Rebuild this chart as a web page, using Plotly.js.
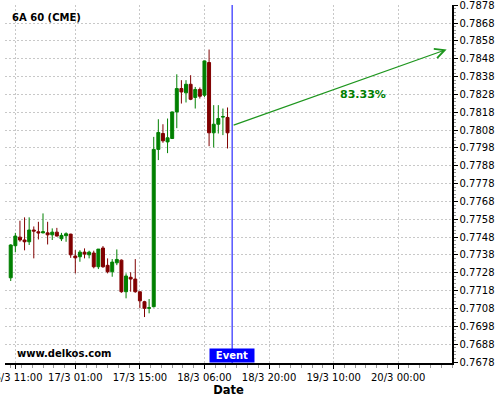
<!DOCTYPE html>
<html>
<head>
<meta charset="utf-8">
<script src="https://cdn.plot.ly/plotly-3.0.1.min.js"></script>
<style>html,body{margin:0;padding:0;background:#fff;}#chart{width:500px;height:400px;}</style>
</head>
<body>
<div id="chart"></div>
<script>
// Hourly candles of 6A (CME)
const openP  = [0.77252,0.77432,0.77480,0.77464,0.77454,0.77520,0.77510,0.77504,0.77504,0.77493,
                0.77508,0.77471,0.77488,0.77497,0.77374,0.77370,0.77396,0.77381,0.77391,0.77314,
                0.77419,0.77322,0.77286,0.77336,0.77351,0.77174,0.77255,0.77245,0.77174,0.77118,
                0.77081,0.77090,0.77972,0.78061,0.78014,0.78033,0.78182,0.78313,0.78289,0.78337,
                0.78263,0.78308,0.78276,0.78459,0.78065,0.78113,0.78153,0.78151];
const highP  = [0.77440,0.77504,0.77572,0.77591,0.77591,0.77540,0.77566,0.77613,0.77566,0.77529,
                0.77532,0.77504,0.77507,0.77499,0.77407,0.77407,0.77417,0.77404,0.77404,0.77413,
                0.77430,0.77361,0.77357,0.77411,0.77355,0.77277,0.77283,0.77357,0.77174,0.77123,
                0.77133,0.78042,0.78141,0.78113,0.78145,0.78184,0.78393,0.78360,0.78360,0.78388,
                0.78322,0.78319,0.78470,0.78532,0.78220,0.78220,0.78201,0.78207];
const lowP   = [0.77234,0.77395,0.77454,0.77406,0.77436,0.77361,0.77467,0.77501,0.77439,0.77464,
                0.77484,0.77458,0.77454,0.77364,0.77277,0.77342,0.77361,0.77361,0.77305,0.77301,
                0.77308,0.77277,0.77258,0.77323,0.77168,0.77137,0.77174,0.77168,0.77081,0.77032,
                0.77053,0.77086,0.77912,0.78009,0.77951,0.78030,0.78091,0.78229,0.78235,0.78248,
                0.78201,0.78257,0.78266,0.77990,0.77983,0.78061,0.78052,0.77977];
const closeP = [0.77436,0.77486,0.77464,0.77454,0.77520,0.77514,0.77504,0.77510,0.77493,0.77508,
                0.77486,0.77490,0.77499,0.77381,0.77364,0.77396,0.77385,0.77396,0.77314,0.77413,
                0.77314,0.77286,0.77340,0.77355,0.77174,0.77262,0.77245,0.77174,0.77123,0.77081,
                0.77084,0.77972,0.78067,0.78020,0.78037,0.78182,0.78313,0.78294,0.78337,0.78253,
                0.78308,0.78270,0.78468,0.78065,0.78113,0.78145,0.78156,0.78065];

const tickIdx    = [1, 14, 28, 42, 56, 70, 84];
const tickLabels = ["16/3 11:00","17/3 01:00","17/3 15:00","18/3 06:00","18/3 20:00","19/3 10:00","20/3 00:00"];
const yTickVals  = [0.7678,0.7688,0.7698,0.7708,0.7718,0.7728,0.7738,0.7748,0.7758,0.7768,0.7778,
                    0.7788,0.7798,0.7808,0.7818,0.7828,0.7838,0.7848,0.7858,0.7868,0.7878];

const eventIdx   = 48;
const arrowFrom  = [48, 0.78105];
const arrowTo    = [94.5, 0.78532];
const probText   = "83.33%";
const probPos    = [76.3, 0.78279];

const xIdx = openP.map((_, i) => i);

const trace = {
  type: 'candlestick',
  x: xIdx, open: openP, high: highP, low: lowP, close: closeP,
  increasing: {line: {color: '#008000', width: 1}, fillcolor: '#008000'},
  decreasing: {line: {color: '#800000', width: 1}, fillcolor: '#800000'},
  whiskerwidth: 0,
  hoverinfo: 'skip',
  showlegend: false
};

const font = 'DejaVu Sans, sans-serif';
const layout = {
  width: 500, height: 400,
  margin: {l: 5, r: 48, t: 5, b: 37, pad: 0},
  paper_bgcolor: '#ffffff', plot_bgcolor: '#ffffff',
  font: {family: font, size: 10, color: '#000'},
  boxgap: 0.08,
  showlegend: false,
  xaxis: {
    type: 'linear', range: [-1.24, 95.66],
    rangeslider: {visible: false},
    tickmode: 'array', tickvals: tickIdx, ticktext: tickLabels,
    ticklabeloverflow: 'allow',
    ticks: 'outside', ticklen: 4, tickcolor: '#000', tickwidth: 1,
    minor: {tickmode: 'linear', tick0: 0, dtick: 7/3, ticks: 'outside', ticklen: 3, tickcolor: '#999', showgrid: false},
    showline: true, linecolor: '#000', linewidth: 1.5,
    showgrid: true, gridcolor: '#c8c8c8', griddash: '2px,2px', gridwidth: 1,
    zeroline: false,
    tickfont: {family: font, size: 10, color: '#000'},
    title: {text: '<b>Date</b>', font: {family: font, size: 11.5, color: '#000'}, standoff: 4},
    fixedrange: true
  },
  yaxis: {
    side: 'right', range: [0.767744, 0.787815],
    tickmode: 'array', tickvals: yTickVals, ticktext: yTickVals.map(v => v.toFixed(4)),
    ticklabeloverflow: 'allow',
    ticks: 'outside', ticklen: 4, tickcolor: '#000', tickwidth: 1,
    minor: {tickmode: 'linear', tick0: 0.7678, dtick: 0.0002, ticks: 'outside', ticklen: 2, tickcolor: '#999', showgrid: false},
    showline: true, linecolor: '#000', linewidth: 1.5,
    showgrid: true, gridcolor: '#c8c8c8', griddash: '2px,2px', gridwidth: 1,
    zeroline: false,
    tickfont: {family: font, size: 10, color: '#000'},
    fixedrange: true
  },
  shapes: [
    {type: 'line', xref: 'x', yref: 'paper', x0: eventIdx, x1: eventIdx, y0: 0, y1: 1,
     line: {color: '#0000ff', width: 1}}
  ],
  annotations: [
    {xref: 'paper', yref: 'paper', x: 0.011, y: 0.985, xanchor: 'left', yanchor: 'top',
     text: '<b>6A 60 (CME)</b>', showarrow: false, font: {family: font, size: 10, color: '#000'}},
    {xref: 'paper', yref: 'paper', x: 0.022, y: 0.027, xanchor: 'left', yanchor: 'middle',
     text: '<b>www.delkos.com</b>', showarrow: false, font: {family: font, size: 10, color: '#000'}},
    {xref: 'x', yref: 'paper', x: eventIdx, y: 0, xanchor: 'center', yanchor: 'bottom',
     text: '<b>Event</b>', showarrow: false, bgcolor: '#0000ff', width: 44, height: 13, borderpad: 0,
     font: {family: font, size: 10, color: '#ffffff'}},
    {xref: 'x', yref: 'y', x: arrowTo[0], y: arrowTo[1], axref: 'x', ayref: 'y',
     ax: arrowFrom[0], ay: arrowFrom[1], text: '', showarrow: true,
     arrowhead: 5, arrowsize: 1.6, arrowwidth: 1.2, arrowcolor: '#1e961e', standoff: 0},
    {xref: 'x', yref: 'y', x: probPos[0], y: probPos[1], xanchor: 'center', yanchor: 'middle',
     text: '<b>' + probText + '</b>', showarrow: false, font: {family: font, size: 11, color: '#008000'}}
  ]
};

Plotly.newPlot('chart', [trace], layout, {displayModeBar: false, staticPlot: true});
</script>
</body>
</html>
